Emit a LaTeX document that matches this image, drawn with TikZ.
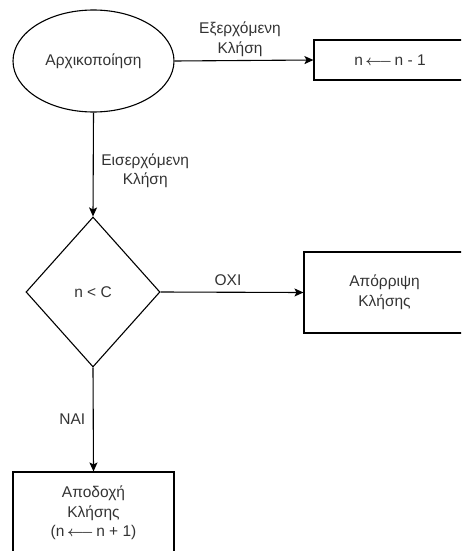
\documentclass[tikz,border=0pt]{standalone}
\usepackage{fontspec}
\setmainfont{Liberation Sans}
\usepackage{xcolor}
\definecolor{ink}{RGB}{51,51,51}
\usetikzlibrary{positioning, calc, shapes.geometric, arrows.meta}
\tikzstyle{Arrow} = [
line width=1.1pt,
-{Stealth[length=9pt, width=8pt, inset=2pt]}]
\tikzstyle{Box} = [
draw, line width=1.1pt, rectangle, align=center, inner sep=0pt]
\tikzstyle{Lbl} = [
align=center, inner sep=0pt, text=ink]
\newcommand{\getsarrow}{\,{\boldmath$\longleftarrow$}\,}

\begin{document}
\begin{tikzpicture}[x=1pt, y=1pt, font=\fontsize{15.5}{19.5}\selectfont, text=ink]
    \clip (0,0) rectangle (461,-551);
    \node [draw, line width=1.1pt, ellipse, minimum width=161pt, minimum height=102pt, inner sep=0pt] (1) at (93.5,-61) {Αρχικοποίηση};
    \node [Box, minimum width=152pt, minimum height=40pt] (2) at (390,-60) {n\getsarrow n - 1};
    \node [draw, line width=1.1pt, diamond, minimum width=134pt, minimum height=150pt, inner sep=0pt] (3) at (93,-292) {n < C};
    \node [Box, minimum width=161pt, minimum height=81pt] (4) at (384.5,-292.5) {Απόρριψη\\Κλήσης};
    \node [Box, minimum width=161pt, minimum height=82pt] (5) at (93.5,-513) {Αποδοχή\\Κλήσης\\(n\getsarrow n + 1)};

    \draw[Arrow] (1.east) -- (2.west) node [Lbl, midway, xshift=-4pt, yshift=21pt] {Εξερχόμενη\\Κλήση};
    \draw[Arrow] (1.south) -- (3.north) node [Lbl, pos=0.56, xshift=52pt] {Εισερχόμενη\\Κλήση};
    \draw[Arrow] (3.east) -- (4.west) node [Lbl, midway, xshift=-4pt, yshift=12pt] {ΟΧΙ};
    \draw[Arrow] (3.south) -- (5.north) node [Lbl, midway, xshift=-21pt] {ΝΑΙ};
\end{tikzpicture}
\end{document}
